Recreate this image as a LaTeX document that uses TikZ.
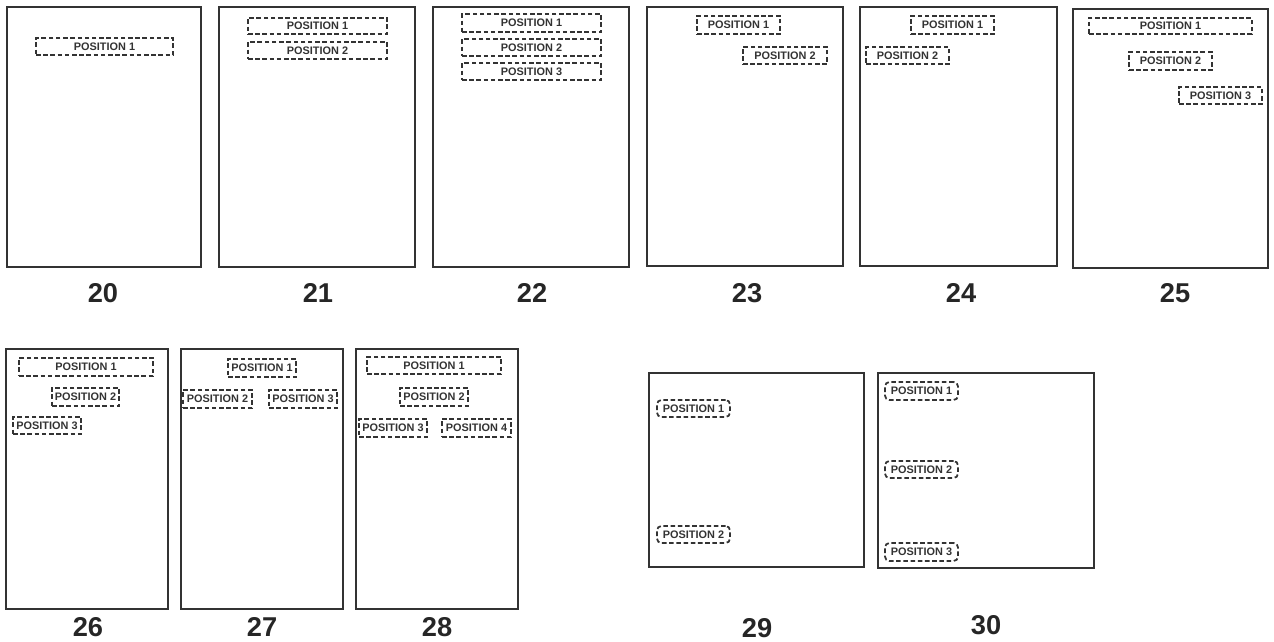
\documentclass[tikz,border=0pt]{standalone}
\usepackage{fontspec}
\setsansfont{Liberation Sans}
\usepackage{tikz}
\usetikzlibrary{positioning}
\definecolor{pgdark}{HTML}{333333}
\definecolor{pgtext}{HTML}{333333}

\begin{document}
\begin{tikzpicture}[x=0.02cm,y=-0.02cm,
    pagebox/.style={draw=pgdark,line width=1.3pt},
    posbox/.style={draw=pgdark,dash pattern=on 2.6pt off 1.5pt,line width=1pt,inner sep=0pt,
      font=\sffamily\bfseries\fontsize{6.2}{6.2}\selectfont,text=pgtext},
    pgnum/.style={font=\sffamily\bfseries\fontsize{15.5}{16}\selectfont,text=black!85}]
        \useasboundingbox (0,0) rectangle (1274,642);
        % page outlines
        \foreach \xa/\ya/\xb/\yb in {7/7/201/267,219/7/415/267,433/7/629/267,647/7/843/266,
            860/7/1057/266,1073/9/1268/268,6/349/168/609,181/349/343/609,356/349/518/609,
            649/373/864/567,878/373/1094/568}
          \draw[pagebox] (\xa,\ya) rectangle (\xb,\yb);
        % figure numbers
        \foreach \n/\x/\y in {20/103/293,21/318/293,22/532/293,23/747/293,24/961/293,25/1175/293,
            26/88/627,27/262/627,28/437/627,29/757/628,30/986/625}
          \node[pgnum] (num\n) at (\x,\y) {\n};
        % label positions
        \foreach \nm/\xa/\ya/\xb/\yb/\t in {
            pa20/36/38/173/55/1,
            pa21/248/18/387/34/1, pb21/248/42/387/59/2,
            pa22/462/14/601/32/1, pb22/462/39/601/56/2, pc22/462/63/601/80/3,
            pa23/697/16/780/34/1, pb23/743/47/827/64/2,
            pa24/911/16/994/34/1, pb24/866/47/949/64/2,
            pa25/1089/18/1252/34/1, pb25/1129/52/1212/70/2, pc25/1179/87/1262/104/3,
            pa26/19/358/153/376/1, pb26/52/388/119/406/2, pc26/13/417/81/434/3,
            pa27/228/359/296/377/1, pb27/183/390/252/408/2, pc27/269/390/337/408/3,
            pa28/367/357/501/374/1, pb28/400/388/468/406/2, pc28/359/419/427/437/3, pd28/442/419/511/437/4}
          \node[posbox,minimum width={(\xb-\xa)*0.02cm},minimum height={(\yb-\ya)*0.02cm}]
            (\nm) at ({(\xa+\xb)/2},{(\ya+\yb)/2}) {POSITION \t};
        % landscape pages, rounded boxes
        \foreach \nm/\xa/\ya/\xb/\yb/\t in {
            pa29/657/400/730/417/1, pb29/657/526/730/543/2,
            pa30/885/382/958/400/1, pb30/885/461/958/478/2, pc30/885/543/958/561/3}
          \node[posbox,rounded corners=2.5pt,minimum width={(\xb-\xa)*0.02cm},minimum height={(\yb-\ya)*0.02cm}]
            (\nm) at ({(\xa+\xb)/2},{(\ya+\yb)/2}) {POSITION \t};
      \end{tikzpicture}
\end{document}
